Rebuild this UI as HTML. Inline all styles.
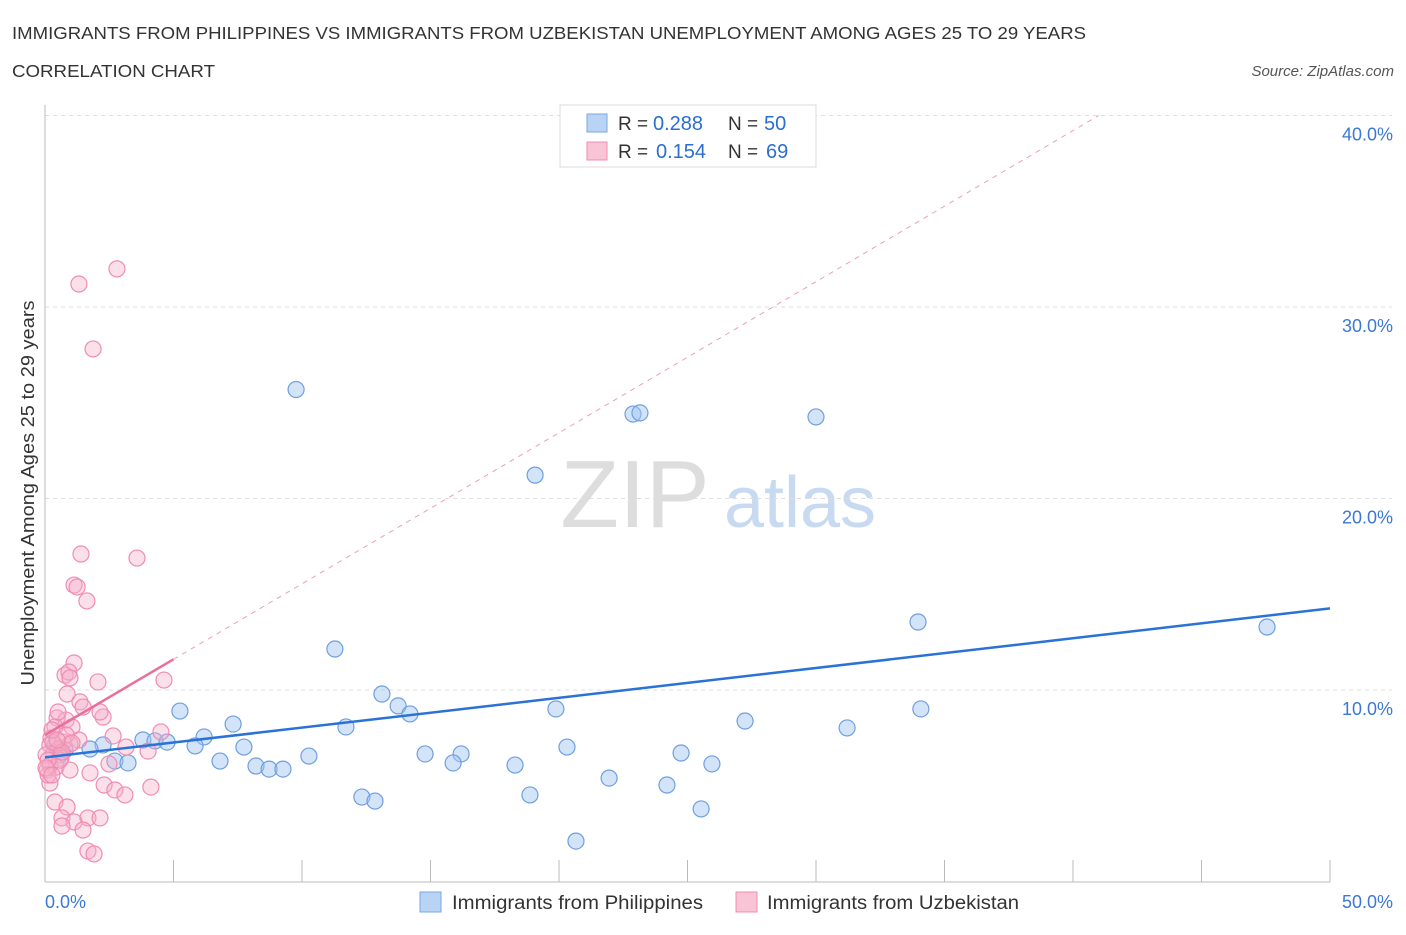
<!DOCTYPE html>
<html><head><meta charset="utf-8"><style>
body{margin:0;background:#fff;font-family:"Liberation Sans",sans-serif;}
svg text{font-family:"Liberation Sans",sans-serif;}
</style></head><body>
<svg id="chart" width="1406" height="930">
<text x="12" y="39" font-size="17.5" fill="#333" textLength="1074" lengthAdjust="spacingAndGlyphs">IMMIGRANTS FROM PHILIPPINES VS IMMIGRANTS FROM UZBEKISTAN UNEMPLOYMENT AMONG AGES 25 TO 29 YEARS</text>
<text x="12" y="77" font-size="17.5" fill="#333" textLength="203" lengthAdjust="spacingAndGlyphs">CORRELATION CHART</text>
<text x="1394" y="76" font-size="15" fill="#555" font-style="italic" text-anchor="end">Source: ZipAtlas.com</text>
<text x="34" y="493" font-size="18" fill="#333" text-anchor="middle" textLength="385" lengthAdjust="spacingAndGlyphs" transform="rotate(-90 34 493)">Unemployment Among Ages 25 to 29 years</text>
<text x="635" y="527" font-size="96" fill="#ddd" font-family="Liberation Serif" text-anchor="middle">ZIP</text>
<text x="800" y="527" font-size="72" fill="#c8daf2" text-anchor="middle">atlas</text>
<g id="grid"></g><g id="axes"></g><g id="pts"></g><g id="trends"></g>
<g>
<rect x="560" y="105" width="256" height="62" fill="#fff" stroke="#ddd"/>
<rect x="587" y="114" width="20" height="18" fill="#b9d3f5" stroke="#7aa7e0"/>
<rect x="587" y="142" width="20" height="18" fill="#f9c4d6" stroke="#f08cb0"/>
<text x="618" y="130" font-size="19" fill="#333">R =</text>
<text x="653" y="130" font-size="20" fill="#2a6fd0">0.288</text>
<text x="728" y="130" font-size="19" fill="#333">N =</text>
<text x="764" y="130" font-size="20" fill="#2a6fd0">50</text>
<text x="618" y="158" font-size="19" fill="#333">R =</text>
<text x="656" y="158" font-size="20" fill="#2a6fd0">0.154</text>
<text x="728" y="158" font-size="19" fill="#333">N =</text>
<text x="766" y="158" font-size="20" fill="#2a6fd0">69</text>
</g>
<g>
<rect x="420" y="892" width="21" height="20" fill="#b9d3f5" stroke="#7aa7e0"/>
<text x="452" y="909" font-size="19" fill="#333" textLength="251" lengthAdjust="spacingAndGlyphs">Immigrants from Philippines</text>
<rect x="736" y="892" width="21" height="20" fill="#f9c4d6" stroke="#f08cb0"/>
<text x="767" y="909" font-size="19" fill="#333" textLength="252" lengthAdjust="spacingAndGlyphs">Immigrants from Uzbekistan</text>
</g>
</svg>
<script>
const blueX=[9.77,22.88,23.15,30.0,19.07,33.97,47.55,11.28,13.11,13.74,14.20,19.88,34.08,5.25,11.71,7.32,27.24,31.21,6.19,3.81,4.28,4.75,2.26,5.84,7.74,20.31,1.75,0.78,14.79,16.19,24.75,10.27,2.72,3.23,6.81,8.21,15.88,18.29,25.95,8.72,9.26,21.95,24.20,12.33,12.84,18.87,25.53,20.66,0.58,0.39];
const blueY=[25.69,24.41,24.47,24.26,21.22,13.55,13.29,12.14,9.79,9.17,8.75,9.01,9.01,8.90,8.07,8.22,8.38,8.02,7.55,7.39,7.34,7.28,7.13,7.08,7.02,7.02,6.92,6.87,6.66,6.66,6.71,6.55,6.29,6.19,6.29,6.03,6.19,6.08,6.14,5.87,5.87,5.40,5.04,4.41,4.20,4.52,3.79,2.11,6.61,7.13];
const pinkX=[2.80,1.32,1.87,1.40,3.58,1.13,1.25,1.63,1.13,0.78,0.93,0.97,2.06,4.63,0.86,1.36,1.48,2.26,0.47,0.82,0.39,1.05,2.65,0.23,1.32,0.19,0.70,3.15,0.54,0.97,4.51,4.01,0.35,0.04,0.62,2.49,0.19,0.43,0.08,0.97,1.75,2.30,4.12,2.72,3.11,0.39,0.19,0.86,0.12,0.58,0.31,0.82,1.67,0.66,1.13,2.14,0.66,1.48,1.67,1.91,0.27,0.51,2.14,1.05,0.12,0.66,0.47,0.04,0.27];
const pinkY=[31.99,31.20,27.81,17.10,16.89,15.48,15.38,14.65,11.41,10.78,10.94,10.63,10.42,10.52,9.79,9.38,9.11,8.59,8.54,8.43,8.07,8.07,7.60,7.49,7.39,7.13,7.28,7.02,6.92,7.18,7.81,6.81,6.71,6.61,6.45,6.14,6.08,5.98,5.82,5.82,5.67,5.04,4.93,4.78,4.52,4.15,5.14,3.89,5.56,6.34,7.28,7.65,3.32,3.32,3.11,3.32,2.90,2.69,1.59,1.44,7.91,8.85,8.85,7.23,6.34,6.76,7.39,5.93,5.56];
const yTicks=[10,20,30,40];
const yTickLabels=["10.0%","20.0%","30.0%","40.0%"];
const blueTrend=[[0,6.48],[50,14.26]];
const pinkTrend=[[0,7.65],[5,11.6]];
const pinkDash=[[5,11.6],[41,40]];
const NS="http://www.w3.org/2000/svg";
const sx=v=>45+v/50*1285, sy=v=>881.5-v*19.15;
function mk(tag,attrs,parent){const e=document.createElementNS(NS,tag);for(const k in attrs)e.setAttribute(k,attrs[k]);document.getElementById(parent).appendChild(e);return e;}
yTicks.forEach((t,i)=>{
 const l=mk('line',{x1:45,x2:1392,y1:sy(t),y2:sy(t),stroke:'#ddd','stroke-dasharray':'4,4'},'grid');
 
 
 const tx=mk('text',{x:1393,y:sy(t)+25,'font-size':18,fill:'#3a78d4','text-anchor':'end'},'grid');
 tx.textContent=yTickLabels[i];
 
 
});
const ax=mk('line',{x1:45,x2:45,y1:105,y2:882,stroke:'#bbb'},'axes');


const bx=mk('line',{x1:45,x2:1330,y1:882,y2:882,stroke:'#bbb'},'axes');


for(let v=5;v<=50;v+=5){const t=mk('line',{x1:sx(v),x2:sx(v),y1:860,y2:882,stroke:'#bbb'},'axes');
 
 }
const x0=mk('text',{x:45,y:908,'font-size':18,fill:'#3a78d4'},'axes');x0.textContent='0.0%';


const x1=mk('text',{x:1393,y:908,'font-size':18,fill:'#3a78d4','text-anchor':'end'},'axes');x1.textContent='50.0%';


blueX.forEach((x,i)=>{const c=mk('circle',{cx:sx(x),cy:sy(blueY[i]),r:8,fill:'rgba(160,196,240,0.45)',stroke:'#6e9fe0','stroke-width':1.2},'pts');
 
 });
pinkX.forEach((x,i)=>{const c=mk('circle',{cx:sx(x),cy:sy(pinkY[i]),r:8,fill:'rgba(246,176,200,0.4)',stroke:'#f08cb0','stroke-width':1.2},'pts');
 
 });
const d=mk('line',{x1:sx(pinkDash[0][0]),y1:sy(pinkDash[0][1]),x2:sx(pinkDash[1][0]),y2:sy(pinkDash[1][1]),stroke:'#eaa0b8','stroke-dasharray':'5,5','stroke-width':1},'trends');


const p=mk('line',{x1:sx(pinkTrend[0][0]),y1:sy(pinkTrend[0][1]),x2:sx(pinkTrend[1][0]),y2:sy(pinkTrend[1][1]),stroke:'#e8709a','stroke-width':2.5},'trends');


const b=mk('line',{x1:sx(blueTrend[0][0]),y1:sy(blueTrend[0][1]),x2:sx(blueTrend[1][0]),y2:sy(blueTrend[1][1]),stroke:'#2a72d6','stroke-width':2.5},'trends');


</script>
</body></html>
